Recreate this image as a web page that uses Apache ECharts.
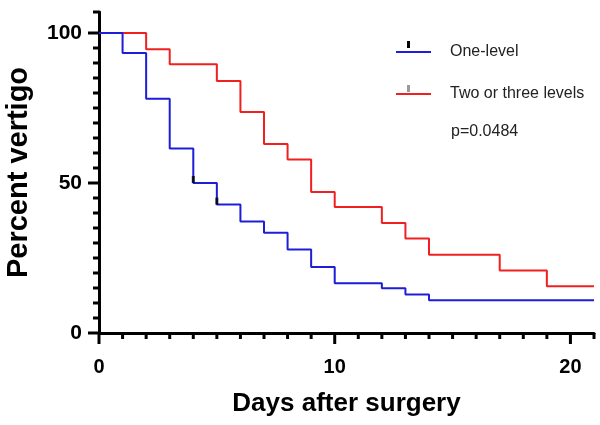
<!DOCTYPE html>
<html>
<head>
<meta charset="utf-8">
<script src="https://cdn.jsdelivr.net/npm/echarts@6/dist/echarts.min.js"></script>
<style>
html,body{margin:0;padding:0;background:#fff;}
#chart{width:600px;height:425px;}
</style>
</head>
<body>
<div id="chart"></div>
<script>
// ---- data ----
var seriesNames = ['One-level', 'Two or three levels'];
// Kaplan-Meier steps: [day, percent] (value changes at that day)
var oneLevel = [[0,100],[1,93.3],[2,78.1],[3,61.5],[4,50],[5,42.8],[6,37.2],[7,33.4],[8,27.8],[9,22.0],[10,16.6],[12,14.9],[13,12.8],[14,10.9],[21,10.9]];
var twoThreeLevels = [[0,100],[2,94.6],[3,89.6],[5,84.0],[6,73.7],[7,63.0],[8,57.8],[9,47.0],[10,42.0],[12,36.7],[13,31.5],[14,26.1],[17,20.8],[19,15.6],[21,15.6]];
// censored observations (One-level group)
var oneLevelCensored = [[4,50],[5,42.8]];
var pValueText = 'p=0.0484';
var xTickLabels = [0,10,20];
var yTickLabels = [0,50,100];
var xMinorTicks = [0,1,2,3,4,5,6,7,8,9,10,11,12,13,14,15,16,17,18,19,20,21];
var yMinorTicks = [0,5,10,15,20,25,30,35,40,45,50,55,60,65,70,75,80,85,90,95,100,107];
var xName = 'Days after surgery';
var yName = 'Percent vertigo';

var FONT = '"Liberation Sans", Arial, Helvetica, sans-serif';
var BLUE = '#1e1ed8';
var RED = '#f02020';
var MAJOR_LEN = 11, MINOR_LEN = 6;

var chart = echarts.init(document.getElementById('chart'));

// axis ticks drawn through the axes' own scales (api.coord)
function tickSeries(values, majors, dir){
  return {
    type:'custom', silent:true, clip:false, z:5, xAxisIndex:0, yAxisIndex:0,
    data: values.map(function(v){ return [v]; }),
    encode: dir === 'x' ? {x:0} : {y:0},
    renderItem:function(params, api){
      var v = api.value(0);
      var len = majors.indexOf(v) >= 0 ? MAJOR_LEN : MINOR_LEN;
      var p = dir === 'x' ? api.coord([v, 0]) : api.coord([0, v]);
      var shape = dir === 'x'
        ? {x1:p[0], y1:p[1], x2:p[0], y2:p[1] + len}
        : {x1:p[0] - len, y1:p[1], x2:p[0], y2:p[1]};
      return {type:'line', shape:shape, style:{stroke:'#000', lineWidth:3}};
    }
  };
}

var option = {
  animation:false,
  backgroundColor:'#fff',
  grid:{left:99, right:6, top:12, bottom:92, containLabel:false, outerBoundsMode:'none'},
  title:{text:pValueText, left:446, top:119, textStyle:{fontFamily:FONT, fontSize:16, fontWeight:'normal', color:'#222'}},
  legend:{
    data:seriesNames, orient:'vertical', left:391, top:39, itemWidth:35, itemHeight:2, itemGap:26,
    icon:'rect', selectedMode:false,
    textStyle:{fontFamily:FONT, fontSize:16, color:'#222', padding:[0,0,0,14]}
  },
  xAxis:{
    type:'value', min:0, max:21, interval:1, splitLine:{show:false},
    axisLine:{show:true, onZero:false, lineStyle:{color:'#000', width:3}},
    axisTick:{show:false},
    axisLabel:{show:true, margin:24, fontFamily:FONT, fontSize:20, fontWeight:'bold', color:'#000',
      formatter:function(v){ return xTickLabels.indexOf(v) >= 0 ? String(v) : ''; }},
    name:xName, nameLocation:'middle', nameGap:58,
    nameTextStyle:{fontFamily:FONT, fontSize:26, fontWeight:'bold', color:'#000'}
  },
  yAxis:{
    type:'value', min:0, max:107, interval:50, splitLine:{show:false},
    axisLine:{show:true, onZero:false, lineStyle:{color:'#000', width:3}},
    axisTick:{show:false},
    axisLabel:{show:true, margin:17, fontFamily:FONT, fontSize:21, fontWeight:'bold', color:'#000',
      formatter:function(v){ return yTickLabels.indexOf(v) >= 0 ? String(v) : ''; }},
    name:yName, nameLocation:'middle', nameGap:66, nameRotate:90,
    nameTextStyle:{fontFamily:FONT, fontSize:29, fontWeight:'bold', color:'#000'}
  },
  series:[
    {name:seriesNames[1], type:'line', step:'end', data:twoThreeLevels,
     color:RED, showSymbol:false, symbol:'none', lineStyle:{color:RED, width:2}, z:2},
    {name:seriesNames[0], type:'line', step:'end', data:oneLevel,
     color:BLUE, showSymbol:false, symbol:'none', lineStyle:{color:BLUE, width:2}, z:3},
    {name:'censored', type:'scatter', data:oneLevelCensored,
     symbol:'rect', symbolSize:[3,7], symbolOffset:[0,'-50%'], itemStyle:{color:'#000'}, z:4, silent:true},
    tickSeries(xMinorTicks, xTickLabels, 'x'),
    tickSeries(yMinorTicks, yTickLabels, 'y')
  ],
  graphic:[
    {type:'rect', left:407, top:41, shape:{width:3, height:7}, style:{fill:'#000'}},
    {type:'rect', left:407, top:85, shape:{width:3, height:7}, style:{fill:'#9a9a9a'}}
  ]
};
chart.setOption(option);
</script>
</body>
</html>
